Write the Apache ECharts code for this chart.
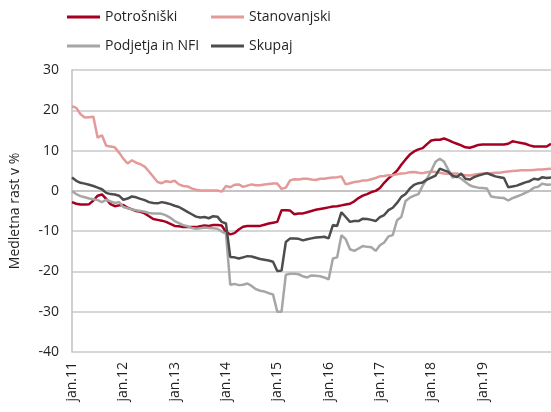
<!DOCTYPE html>
<html>
<head>
<meta charset="UTF-8">
<title></title>
<style>
  html, body { margin: 0; padding: 0; background: #fff; }
  #chart { width: 551px; height: 412px; }
</style>
</head>
<body>
<div id="chart"></div>
<script src="https://cdn.jsdelivr.net/npm/echarts@6/dist/echarts.min.js"></script>
<script>
// mesecne oznake jan.11 ... maj.20
var months = ['jan', 'feb', 'mar', 'apr', 'maj', 'jun', 'jul', 'avg', 'sep', 'okt', 'nov', 'dec'];
var years = ['11', '12', '13', '14', '15', '16', '17', '18', '19', '20'];
var nPoints = 113;
var lastLabelled = 96; // jan.19 je zadnja oznaka na osi

var potrosniski = [
  -2.8, -3.2, -3.4, -3.4, -3.3, -2.4, -1.2, -0.9, -2.0, -3.3, -3.8, -3.6,
  -3.5, -4.2, -4.6, -5.0, -5.2, -5.6, -6.3, -7.0, -7.2, -7.4, -7.7, -8.2,
  -8.7, -8.8, -9.0, -9.0, -9.0, -9.0, -8.8, -8.6, -8.7, -8.5, -8.5, -8.6,
  -10.2, -10.8, -10.5, -9.6, -8.9, -8.7, -8.7, -8.7, -8.7, -8.4, -8.1, -7.9,
  -7.7, -4.8, -4.8, -4.9, -5.8, -5.6, -5.6, -5.3, -5.0, -4.7, -4.5, -4.3,
  -4.1, -3.9, -3.8, -3.6, -3.4, -3.2, -2.6, -1.8, -1.2, -0.8, -0.3, 0.0,
  0.7, 2.0, 3.1, 4.0, 5.0, 6.5, 7.8, 9.0, 9.8, 10.3, 10.6, 11.6,
  12.5, 12.7, 12.7, 13.0, 12.6, 12.1, 11.7, 11.3, 10.8, 10.7, 11.0, 11.4,
  11.5, 11.5, 11.5, 11.5, 11.5, 11.5, 11.7, 12.3, 12.1, 11.9, 11.7, 11.3,
  11.0, 11.0, 11.0, 11.0, 11.7
];

var stanovanjski = [
  21.0, 20.6, 19.0, 18.2, 18.3, 18.4, 13.2, 13.8, 11.2, 11.0, 10.8, 9.5,
  8.0, 6.8, 7.6, 7.0, 6.6, 6.0, 4.8, 3.5, 2.2, 1.9, 2.4, 2.2,
  2.5, 1.6, 1.2, 1.1, 0.6, 0.3, 0.1, 0.1, 0.1, 0.1, 0.1, -0.2,
  1.2, 0.9, 1.5, 1.6, 1.0, 1.3, 1.6, 1.4, 1.4, 1.6, 1.7, 1.8,
  1.8, 0.5, 0.8, 2.6, 2.9, 2.8, 3.0, 3.0, 2.8, 2.7, 3.0, 3.0,
  3.2, 3.3, 3.4, 3.6, 1.6, 1.9, 2.2, 2.3, 2.6, 2.6, 2.9, 3.2,
  3.6, 3.7, 3.9, 3.9, 4.1, 4.3, 4.4, 4.6, 4.7, 4.5, 4.4, 4.6,
  4.8, 4.7, 4.5, 4.3, 4.2, 4.3, 4.3, 4.0, 3.9, 3.8, 4.0, 4.2,
  4.3, 4.3, 4.4, 4.5, 4.5, 4.7, 4.8, 4.9, 5.0, 5.1, 5.1, 5.1,
  5.2, 5.3, 5.3, 5.4, 5.5
];

var podjetja = [
  -0.1, -0.8, -1.3, -1.6, -1.9, -2.1, -2.3, -2.8, -2.2, -2.6, -3.0, -2.8,
  -4.0, -4.3, -4.6, -4.8, -5.0, -5.2, -5.5, -5.6, -5.6, -5.7, -6.1, -6.7,
  -7.5, -8.0, -8.5, -8.8, -9.2, -9.4, -9.3, -9.1, -9.2, -9.3, -9.4, -10.1,
  -10.6, -23.3, -23.1, -23.4, -23.3, -23.0, -23.6, -24.4, -24.8, -25.0, -25.4, -25.7,
  -30.0, -30.0, -20.8, -20.6, -20.6, -20.7, -21.2, -21.5, -21.0, -21.1, -21.2, -21.5,
  -22.0, -16.8, -16.5, -11.0, -12.0, -14.5, -14.9, -14.3, -13.7, -13.9, -14.0, -14.9,
  -13.5, -12.8, -11.3, -11.0, -7.3, -6.5, -2.5, -1.7, -1.2, -0.8, 1.3, 3.0,
  5.0, 7.2, 8.0, 7.2, 5.2, 3.3, 3.7, 3.0, 2.2, 1.4, 1.0, 0.8,
  0.7, 0.6, -1.4, -1.6, -1.7, -1.8, -2.4, -1.8, -1.4, -1.0, -0.5, 0.0,
  0.8, 1.0, 1.8, 1.5, 1.6
];

var skupaj = [
  3.3, 2.5, 2.0, 1.8, 1.5, 1.2, 0.8, 0.4, -0.5, -0.8, -0.9, -1.2,
  -2.2, -1.9, -1.4, -1.6, -2.0, -2.3, -2.8, -3.0, -3.1, -2.8, -3.0, -3.3,
  -3.7, -4.0, -4.6, -5.2, -5.8, -6.4, -6.6, -6.5, -6.8, -6.3, -6.4, -7.7,
  -8.1, -16.4, -16.5, -16.8, -16.5, -16.2, -16.3, -16.6, -16.9, -17.1, -17.3, -17.6,
  -19.9, -19.8, -12.7, -11.8, -11.8, -11.9, -12.3, -12.0, -11.8, -11.6, -11.5, -11.4,
  -11.8, -8.5, -8.7, -5.3, -6.5, -7.7, -7.5, -7.5, -6.9, -7.0, -7.2, -7.5,
  -6.5, -6.0, -4.8, -4.2, -3.0, -1.5, -0.8, 0.6, 1.5, 1.9, 2.1, 2.8,
  3.3, 3.8, 5.5, 5.1, 4.7, 3.8, 3.4, 4.3, 3.0, 2.8, 3.4, 3.8,
  4.1, 4.4, 4.0, 3.6, 3.4, 3.2, 0.9, 1.1, 1.3, 1.7, 2.1, 2.4,
  3.0, 2.8, 3.4, 3.2, 3.3
];

var yTicks = { min: -40, max: 30, interval: 10 };

var categories = [];
for (var i = 0; i < nPoints; i++) {
  categories.push(months[i % 12] + '.' + years[Math.floor(i / 12)]);
}

var fontFam = 'Open Sans';
var legendText = { fontFamily: fontFam, fontSize: 14, color: '#231F20' };

function legendItem(name, left, top) {
  return {
    data: [name],
    left: left,
    top: top,
    icon: 'rect',
    itemWidth: 33,
    itemHeight: 3,
    padding: 0,
    textStyle: legendText
  };
}

function lineSeries(name, data, color) {
  return {
    name: name,
    type: 'line',
    data: data,
    showSymbol: false,
    symbol: 'none',
    lineStyle: { color: color, width: 2.5 },
    itemStyle: { color: color },
    emphasis: { disabled: true },
    animation: false
  };
}

var myChart = echarts.init(document.getElementById('chart'));
var option = {
  animation: false,
  legend: [
    legendItem('Potrošniški', 67, 10),
    legendItem('Stanovanjski', 211, 10),
    legendItem('Podjetja in NFI', 67, 39),
    legendItem('Skupaj', 211, 39)
  ],
  grid: { left: 69, right: 0, top: 70, bottom: 60, containLabel: false },
  xAxis: {
    type: 'category',
    data: categories,
    boundaryGap: false,
    axisLine: { lineStyle: { color: '#BFBFBF', width: 1.5 } },
    axisTick: { show: false },
    splitLine: { show: false },
    axisLabel: {
      rotate: 90,
      margin: 10,
      fontFamily: fontFam,
      fontSize: 14,
      color: '#231F20',
      interval: function (index) { return index % 12 === 0 && index <= lastLabelled; }
    }
  },
  yAxis: {
    type: 'value',
    min: yTicks.min,
    max: yTicks.max,
    interval: yTicks.interval,
    name: 'Medletna rast v %',
    nameLocation: 'middle',
    nameGap: 50,
    nameTextStyle: { fontFamily: fontFam, fontSize: 14, color: '#231F20' },
    axisLine: { show: true, lineStyle: { color: '#BFBFBF', width: 1.5 } },
    axisTick: { show: false },
    axisLabel: { margin: 13, fontFamily: fontFam, fontSize: 14, color: '#231F20' },
    splitLine: { lineStyle: { color: '#C8C8C8', width: 1.5 } }
  },
  series: [
    lineSeries('Potrošniški', potrosniski, '#A50021'),
    lineSeries('Stanovanjski', stanovanjski, '#E39A98'),
    lineSeries('Podjetja in NFI', podjetja, '#A6A6A6'),
    lineSeries('Skupaj', skupaj, '#4D4D4D')
  ]
};
myChart.setOption(option);
</script>
</body>
</html>
